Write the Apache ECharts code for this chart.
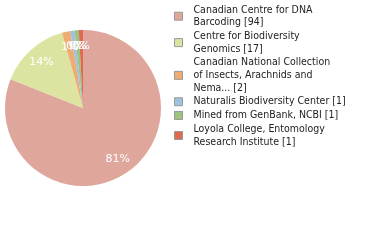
<!DOCTYPE html>
<html><head><meta charset="utf-8">
<script src="https://cdn.jsdelivr.net/npm/echarts@6/dist/echarts.min.js"></script>
<style>html,body{margin:0;padding:0;background:#fff}#c{width:380px;height:240px}</style>
</head><body><div id="c"></div>
<script>
const names = [
  "Canadian Centre for DNA Barcoding",
  "Centre for Biodiversity Genomics",
  "Canadian National Collection of Insects, Arachnids and Nema...",
  "Naturalis Biodiversity Center",
  "Mined from GenBank, NCBI",
  "Loyola College, Entomology Research Institute"
];
const values = [94, 17, 2, 1, 1, 1];
const legendLines = [
  ["Canadian Centre for DNA", "Barcoding [94]"],
  ["Centre for Biodiversity", "Genomics [17]"],
  ["Canadian National Collection", "of Insects, Arachnids and", "Nema... [2]"],
  ["Naturalis Biodiversity Center [1]"],
  ["Mined from GenBank, NCBI [1]"],
  ["Loyola College, Entomology", "Research Institute [1]"]
];
const colors = ["#dfa69c", "#dde3a0", "#eeab72", "#a0c0e0", "#9cc47c", "#e0694f"];

const data = names.map((n, i) => ({ name: n, value: values[i], itemStyle: { color: colors[i] } }));
const chart = echarts.init(document.getElementById('c'));
chart.setOption({
  animation: false,
  legend: {
    orient: 'vertical', left: 174, top: 3.5, padding: 0,
    itemWidth: 8, itemHeight: 8, itemGap: 1,
    icon: 'rect',
    itemStyle: { borderColor: '#999', borderWidth: 1 },
    textStyle: { fontFamily: 'DejaVu Sans Condensed, DejaVu Sans', fontSize: 10.5, color: '#222', lineHeight: 12.7, padding: [0, 0, 0, 6] },
    formatter: function (n) { return legendLines[names.indexOf(n)].join('\n'); },
    data: names
  },
  series: [{
    type: 'pie', center: [83, 108], radius: [0, 78], startAngle: 90, clockwise: true,
    data: data, label: { show: false }, labelLine: { show: false }, silent: true
  }, {
    type: 'pie', center: [83, 108], radius: [40, 78], startAngle: 90, clockwise: true,
    data: data.map(d => ({ name: d.name, value: d.value })),
    itemStyle: { color: 'rgba(0,0,0,0)' },
    silent: true, legendHoverLink: false, avoidLabelOverlap: false,
    labelLayout: { hideOverlap: false },
    label: { show: true, position: 'inside', color: '#fff', fontSize: 11, fontFamily: 'DejaVu Sans',
      formatter: p => Math.floor(p.percent) + '%' },
    labelLine: { show: false }
  }]
});
</script></body></html>
